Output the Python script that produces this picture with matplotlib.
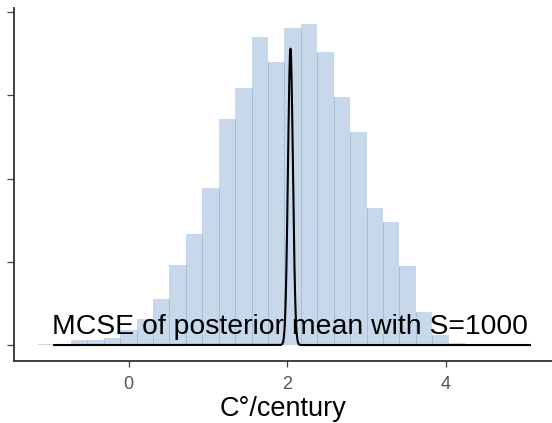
import numpy as np
import matplotlib
matplotlib.use("Agg")
import matplotlib.pyplot as plt

plt.rcParams["font.family"] = ["Liberation Sans", "DejaVu Sans"]

# histogram of posterior draws (trend, C/century)
bin_start = -1.144
bin_width = 0.2072
counts = [0.3, 0.0, 1.5, 1.5, 2.1, 4.5, 7.8, 13.8, 24.0, 33.3,
          47.1, 67.8, 77.1, 92.4, 84.9, 95.1, 96.3, 87.9, 74.4, 63.9,
          41.1, 36.9, 23.7, 9.9, 3.0, 0.6, 0.3, 0.3]

# normal curve for the MCSE of the posterior mean
mcse_mean = 2.04
mcse_sd = 0.031
curve_peak = 89.0
curve_from, curve_to = -0.94, 5.06

x_ticks = [0, 2, 4]
y_ticks = [0, 25, 50, 75, 100]
label_text = "MCSE of posterior mean with S=1000"
x_label = "C°/century"

fill = "#c6d8e9"
divider = "#a3bfd9"

fig = plt.figure(figsize=(5.52, 4.23), dpi=100)
ax = fig.add_axes([14 / 552, 1 - 361 / 423, 1 - 14 / 552, (361 - 8) / 423])

edges = bin_start + bin_width * np.arange(len(counts) + 1)
ax.bar(edges[:-1], counts, width=bin_width, align="edge", color=fill,
       edgecolor="none", zorder=1)
# thin darker lines between neighbouring bars
inner = edges[1:-1]
tops = np.minimum(counts[:-1], counts[1:])
ax.vlines(inner, 0, tops, color=divider, lw=0.7, zorder=1.5)

xs = np.linspace(curve_from, curve_to, 4000)
ys = curve_peak * np.exp(-0.5 * ((xs - mcse_mean) / mcse_sd) ** 2)
ax.plot(xs, ys, color="black", lw=1.5, zorder=3)

ax.text(mcse_mean - 0.01, 3.3, label_text, ha="center", va="baseline",
        fontsize=20.4, color="black", zorder=4)

ax.set_xlim(-1.446, 5.338)
ax.set_ylim(-4.8, 101.2)
ax.set_xticks(x_ticks)
ax.set_yticks(y_ticks)
ax.set_yticklabels([])
ax.tick_params(axis="x", length=4, width=0.9, color="#444444",
               labelcolor="#555555", labelsize=13, pad=7)
ax.tick_params(axis="y", length=5, width=0.9, color="#444444")
for side in ("top", "right"):
    ax.spines[side].set_visible(False)
for side in ("left", "bottom"):
    ax.spines[side].set_color("#333333")
    ax.spines[side].set_linewidth(1.3)
ax.set_xlabel(x_label, fontsize=19.5, labelpad=2)

fig.savefig("out.png", dpi=100)
